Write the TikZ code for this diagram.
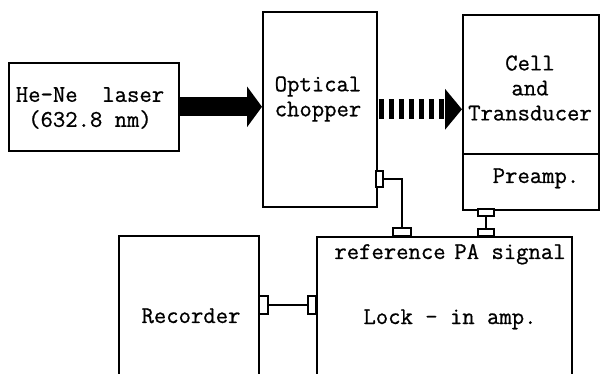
\documentclass[tikz,border=0pt]{standalone}
\usepackage{fontspec}
\newfontfamily\courfont{Latin Modern Mono}[FakeBold=0.8]
\usetikzlibrary{arrows.meta}
\begin{document}
\begin{tikzpicture}[x=1pt,y=-1pt,
  box/.style={draw,line width=1.6pt,inner sep=0pt,anchor=north west},
  tab/.style={draw,line width=1.4pt,inner sep=0pt,fill=white},
  lbl/.style={font=\courfont\fontsize{24}{25}\selectfont,align=center,inner sep=0pt},
  wire/.style={line width=1.6pt}]
\useasboundingbox (0,0) rectangle (600,374);
\clip (0,0) rectangle (600,374);
% boxes
\node[box,minimum width=170pt,minimum height=88pt] (laser) at (8,62) {};
\node[box,minimum width=114pt,minimum height=195pt] (chopper) at (262,11) {};
\node[box,minimum width=136pt,minimum height=139pt] (cell) at (462,14) {};
\node[box,minimum width=136pt,minimum height=56pt] (preamp) at (462,153) {};
\node[box,minimum width=255pt,minimum height=160pt] (lockin) at (316,236) {};
\node[box,minimum width=140pt,minimum height=160pt] (recorder) at (118,235) {};
% labels
\node[lbl] (tlaser) at (90,108) {He-Ne\ \ laser\\(632.8 nm)};
\node[lbl] (tchop) at (318,99) {Optical\\chopper};
\node[lbl] (tcell) at (530,88) {Cell\\and\\Transducer};
\node[lbl,anchor=base] (tpre) at (536,183) {Preamp.};
\node[lbl,anchor=base] (tref) at (390,259) {reference};
\node[lbl,anchor=base] (tsig) at (510,259) {PA signal};
\node[lbl,anchor=base] (tlock) at (450,324) {Lock - in amp.};
\node[lbl,anchor=base] (trecd) at (191,323) {Recorder};
% tabs
\node[tab,minimum width=7pt,minimum height=16pt] (tc) at (379.5,179) {};
\node[tab,minimum width=18pt,minimum height=8pt] (tr) at (402,232) {};
\node[tab,minimum width=16pt,minimum height=7pt] (tp) at (486,212.5) {};
\node[tab,minimum width=16pt,minimum height=7pt] (ts) at (486,232.5) {};
\node[tab,minimum width=9pt,minimum height=18pt] (trec) at (263.5,305) {};
\node[tab,minimum width=8pt,minimum height=18pt] (tl) at (312,305) {};
% wires
\draw[wire] (tc.east) -| (tr.north);
\draw[wire] (tp.south) -- (ts.north);
\draw[wire] (trec.east) -- (tl.west);
% beams
\draw[line width=19pt,-{Triangle[length=15pt,width=40pt]}] (laser.east) -- (laser.east -| chopper.west);
\draw[line width=20pt,dash pattern=on 5pt off 5pt,-{Triangle[length=17pt,width=40pt]}] ([xshift=1pt]chopper.east) -- (chopper.east -| cell.west);
\end{tikzpicture}
\end{document}
